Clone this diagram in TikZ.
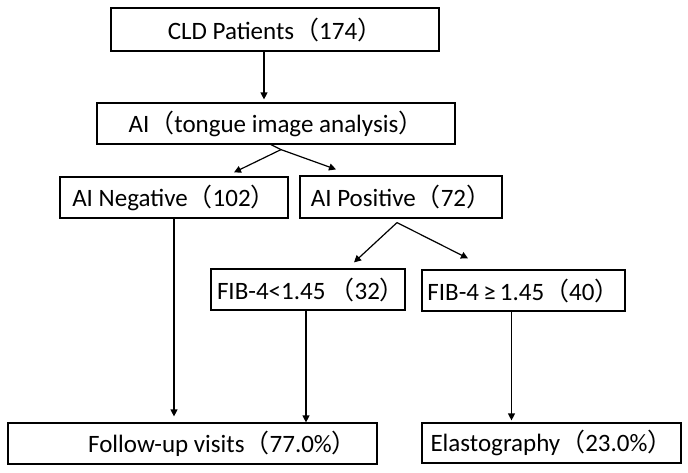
\documentclass[tikz,border=0pt]{standalone}
\usepackage{fontspec}
\setmainfont{Carlito}
\newfontfamily\cjk{Noto Sans CJK SC}
\usetikzlibrary{arrows.meta}

\newcommand{\fwl}{{\cjk （}}
\newcommand{\fwr}{{\cjk ）}}

\tikzset{
  box/.style={draw,rectangle,line width=1.2pt,inner sep=0pt,
    font=\fontsize{25}{30}\selectfont},
  flow/.style={line width=1.2pt,-{Triangle[length=7pt,width=7pt]}}
}

\begin{document}
\begin{tikzpicture}[x=1pt,y=-1pt]

\useasboundingbox (0,0) rectangle (688,472);

\begin{scope} % boxes, top to bottom
  \node[box,minimum width=328pt,minimum height=43pt] (cld) at (275,29.5)
    {CLD Patients\fwl 174\fwr};
  \node[box,minimum width=358pt,minimum height=41pt] (ai) at (276,123.5)
    {AI\fwl tongue image analysis\fwr};
  \node[box,minimum width=228pt,minimum height=41pt] (neg) at (174,197.5)
    {AI Negative\fwl 102\fwr};
  \node[box,minimum width=202pt,minimum height=42pt] (pos) at (401,197)
    {AI Positive\fwl 72\fwr};
  \node[box,minimum width=190pt,minimum height=41pt] (fiblo) at (308,289.5)
    {\hspace*{6pt}FIB-4<1.45\,\fwl 32\fwr};
  \node[box,minimum width=203pt,minimum height=41pt] (fibhi) at (523.5,290.5)
    {FIB-4\,≥\,1.45\fwl 40\fwr};
  \node[box,minimum width=369pt,minimum height=41pt] (follow) at (192.5,443.5)
    {\hspace*{60pt}Follow-up visits\fwl 77.0\%\fwr};
  \node[box,minimum width=259pt,minimum height=40pt] (elasto) at (551.5,443)
    {Elastography\fwl 23.0\%\fwr};
\end{scope}

\begin{scope} % split points and drop points
  \coordinate (cld-out) at ([xshift=-11pt]cld.south);
  \coordinate (ai-split) at ([xshift=5pt,yshift=-5pt]ai.south);
  \coordinate (pos-split) at ([xshift=-4pt,yshift=-4pt]pos.south);
  \coordinate (fiblo-out) at ([xshift=-2pt]fiblo.south);
  \coordinate (fibhi-out) at ([xshift=-12pt]fibhi.south);
\end{scope}

\begin{scope} % connectors
  \draw[flow,shorten >=3pt] (cld-out) -- (cld-out |- ai.north);
  \draw[line width=1.2pt] ([xshift=-5pt]ai.south) -- (ai-split);
  \draw[flow] (ai-split) -- ([xshift=60pt,yshift=4pt]neg.north);
  \draw[flow] (ai-split) -- ([xshift=-65pt,yshift=6pt]pos.north);
  \draw[flow] (pos-split) -- ([xshift=46pt,yshift=6pt]fiblo.north);
  \draw[flow] (pos-split) -- ([xshift=-55.5pt,yshift=11pt]fibhi.north);
  \draw[flow,shorten >=6pt] (neg.south) -- (neg.south |- follow.north);
  \draw[flow] (fiblo-out) -- (fiblo-out |- follow.north);
  \draw[flow,shorten >=2pt] (fibhi-out) -- (fibhi-out |- elasto.north);
\end{scope}

\end{tikzpicture}
\end{document}
